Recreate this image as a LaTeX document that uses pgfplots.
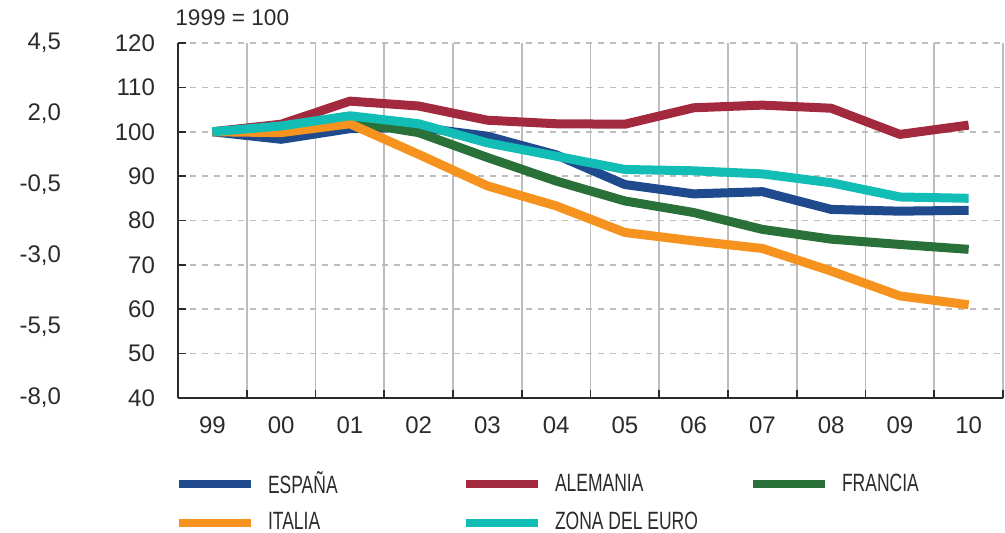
\documentclass[border=0pt]{standalone}
\usepackage{pgfplots}
\pgfplotsset{compat=1.18}
\usepackage{fontspec}
\setmainfont{Liberation Sans}
\newfontfamily\condfont[FakeStretch=0.7]{Liberation Sans}

\definecolor{espana}{HTML}{1F4B8E}
\definecolor{alemania}{HTML}{A32A3E}
\definecolor{francia}{HTML}{2A7039}
\definecolor{italia}{HTML}{F6921E}
\definecolor{zona}{HTML}{12BDB5}
\definecolor{gridgray}{HTML}{BDBDBD}
\definecolor{txt}{HTML}{2B2B2B}

\begin{document}
\begin{tikzpicture}
\begin{axis}[
    name=ax,
    scale only axis,
    width=412.5pt, height=177.5pt,
    xmin=-0.5, xmax=11.5, ymin=40, ymax=120,
    axis x line*=bottom, axis y line*=left,
    axis line style={txt, line width=0.8pt},
    xtick={0,...,11},
    xticklabels={99,00,01,02,03,04,05,06,07,08,09,10},
    minor xtick={-0.5,0.5,...,11.5},
    major x tick style={draw=none},
    minor x tick style={txt, line width=0.8pt},
    xminorgrids,
    minor x grid style={gridgray, line width=0.8pt},
    ytick={40,50,...,120},
    ymajorgrids,
    major y grid style={gridgray, dashed, line width=0.8pt},
    y tick style={txt, line width=0.8pt},
    tick align=inside,
    major tick length=4pt, minor tick length=4pt,
    tick label style={font=\fontsize{12}{14}\selectfont, text=txt},
    xticklabel style={yshift=-6pt},
    yticklabel style={xshift=-8pt},
    /pgf/number format/assume math mode=true,
    title={1999 = 100},
    title style={at={(0,1)}, anchor=south west, inner sep=0pt,
        xshift=-1.5pt, yshift=2.5pt, font=\fontsize{11.3}{13}\selectfont, text=txt},
    legend columns=3,
    legend style={at={(axis description cs:0,-0.207)}, anchor=north west,
        xshift=-1.5pt,
        draw=none, fill=none, inner sep=0pt, outer sep=0pt,
        font=\condfont\fontsize{12.5}{14}\selectfont,
        text=txt, nodes={inner sep=0pt, outer sep=0pt, anchor=west},
        row sep=8pt,
        /tikz/every odd column/.append style={column sep=6.5pt}},
    legend cell align=left,
    legend image code/.code={\draw[#1, line width=4pt] (0pt,0pt) -- (36pt,0pt);},
    every axis plot/.append style={line width=4.5pt, line join=round},
]
\addplot[espana] coordinates {
    (0,100) (1,98.3) (2,100.7) (3,101) (4,99) (5,94.8)
    (6,88.1) (7,86.0) (8,86.5) (9,82.5) (10,82.1) (11,82.3)};
\addlegendentry{\makebox[97pt][l]{ESPAÑA}}
\addplot[alemania] coordinates {
    (0,100) (1,101.7) (2,106.9) (3,105.8) (4,102.6) (5,101.8)
    (6,101.7) (7,105.4) (8,106.0) (9,105.3) (10,99.4) (11,101.5)};
\addlegendentry{\makebox[97pt][l]{ALEMANIA}}
\addplot[francia] coordinates {
    (0,100) (1,100.6) (2,102.3) (3,99.8) (4,94.2) (5,88.9)
    (6,84.4) (7,81.8) (8,78.0) (9,75.8) (10,74.6) (11,73.5)};
\addlegendentry{FRANCIA}
\addplot[italia] coordinates {
    (0,100) (1,99.8) (2,101.8) (3,94.9) (4,87.8) (5,83.3)
    (6,77.3) (7,75.4) (8,73.7) (9,68.6) (10,63.0) (11,61.0)};
\addlegendentry{\makebox[97pt][l]{ITALIA}}
\addplot[zona] coordinates {
    (0,100) (1,101.3) (2,103.6) (3,101.8) (4,97.5) (5,94.5)
    (6,91.5) (7,91.2) (8,90.5) (9,88.5) (10,85.3) (11,85.0)};
\addlegendentry{\makebox[97pt][l]{ZONA DEL EURO}}
\end{axis}
\begin{axis}[
    scale only axis,
    width=412.5pt, height=177.5pt,
    xmin=0, xmax=1, ymin=-8, ymax=4.5,
    hide x axis,
    axis y line*=left,
    y axis line style={draw=none},
    ytick={-8,-5.5,-3,-0.5,2,4.5},
    major tick length=0pt,
    tick label style={font=\fontsize{12}{14}\selectfont, text=txt},
    yticklabel style={xshift=-55pt},
    /pgf/number format/.cd, fixed, fixed zerofill, precision=1, use comma,
    assume math mode=true,
]
\end{axis}
\path ([shift={(-89pt,-67pt)}]ax.south west) rectangle ([shift={(1pt,21.5pt)}]ax.north east);
\end{tikzpicture}
\end{document}
